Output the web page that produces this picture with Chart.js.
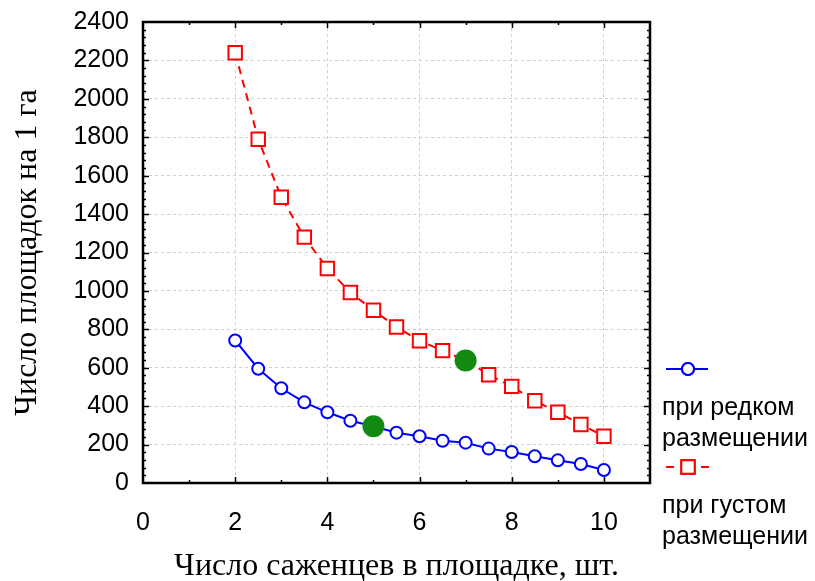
<!DOCTYPE html>
<html>
<head>
<meta charset="utf-8">
<script src="https://cdn.jsdelivr.net/npm/chart.js@4.4.1/dist/chart.umd.min.js"></script>
<style>
  html, body { margin: 0; padding: 0; background: #fff; }
  #chart { display: block; }
</style>
</head>
<body>
<canvas id="chart" width="815" height="581"></canvas>
<script>
'use strict';

// seedlings per plot (x) and number of plots per hectare (y)
var seedlings = [2, 2.5, 3, 3.5, 4, 4.5, 5, 5.5, 6, 6.5, 7, 7.5, 8, 8.5, 9, 9.5, 10];
var sparseCounts = [742, 595, 493, 420, 368, 324, 295, 262, 243, 220, 210, 179, 161, 139, 118, 99, 68];
var denseCounts = [2240, 1790, 1488, 1280, 1117, 992, 899, 812, 741, 689, 638, 564, 503, 428, 368, 305, 243];

// highlighted (green) points: x positions on each curve
var sparseMarkX = 5;
var denseMarkX = 7;

var xTicks = [0, 2, 4, 6, 8, 10];
var yTicks = [0, 200, 400, 600, 800, 1000, 1200, 1400, 1600, 1800, 2000, 2200, 2400];

var seriesNames = [['при редком', 'размещении'], ['при густом', 'размещении']];
var xTitle = 'Число саженцев в площадке, шт.';
var yTitle = 'Число площадок на 1 га';

var BLUE = 'rgb(0,0,255)';
var RED = 'rgb(255,0,0)';
var GREEN = 'rgb(18,138,18)';
var SANS = '"Liberation Sans", Arial, sans-serif';
var SERIF = '"Liberation Serif", "Times New Roman", serif';

function toPoints(xs, ys) {
  return xs.map(function(x, i) { return {x: x, y: ys[i]}; });
}

function pick(xs, ys, x) {
  return {x: x, y: ys[xs.indexOf(x)]};
}

// frame around the plot with inward major/minor ticks on all sides
var framePlugin = {
  id: 'frame',
  afterDraw: function(chart) {
    var ctx = chart.ctx;
    var a = chart.chartArea;
    var xs = chart.scales.x;
    var ys = chart.scales.y;
    var v, p, len;

    ctx.save();
    ctx.strokeStyle = '#000';
    ctx.lineWidth = 1.5;
    ctx.beginPath();
    for (v = 1; v < 11; v++) {
      p = Math.round(xs.getPixelForValue(v)) + 0.5;
      len = v % 2 === 0 ? 6 : 3;
      ctx.moveTo(p, a.bottom); ctx.lineTo(p, a.bottom - len);
      ctx.moveTo(p, a.top); ctx.lineTo(p, a.top + len);
    }
    for (v = 40; v < 2400; v += 40) {
      p = Math.round(ys.getPixelForValue(v)) + 0.5;
      len = v % 200 === 0 ? 6 : 3;
      ctx.moveTo(a.left, p); ctx.lineTo(a.left + len, p);
      ctx.moveTo(a.right, p); ctx.lineTo(a.right - len, p);
    }
    ctx.stroke();

    ctx.lineWidth = 2.5;
    ctx.strokeRect(a.left, a.top, a.right - a.left, a.bottom - a.top);
    ctx.restore();
  }
};

// legend to the right of the plot: line sample above a two-line label
var sideLegendPlugin = {
  id: 'sideLegend',
  afterDraw: function(chart) {
    var ctx = chart.ctx;
    var a = chart.chartArea;
    var x0 = a.right + 16;
    var rows = [369, 467];
    var ds = [chart.data.datasets[1], chart.data.datasets[2]];

    ctx.save();
    ds.forEach(function(d, i) {
      var y = rows[i];
      var cx = x0 + 22;
      ctx.strokeStyle = d.borderColor;
      ctx.lineWidth = 2;
      ctx.beginPath();
      if (d.borderDash) {
        ctx.moveTo(x0, y); ctx.lineTo(x0 + 8, y);
        ctx.moveTo(cx + 13, y); ctx.lineTo(cx + 21, y);
      } else {
        ctx.moveTo(x0, y); ctx.lineTo(x0 + 42, y);
      }
      ctx.stroke();
      Chart.helpers.drawPoint(ctx, {
        pointStyle: d.pointStyle,
        radius: d.pointRadius,
        borderWidth: 2
      }, cx, y);
      ctx.fillStyle = '#fff';
      ctx.fill();
      ctx.stroke();

      ctx.fillStyle = '#000';
      ctx.font = '25px ' + SANS;
      ctx.textAlign = 'left';
      ctx.textBaseline = 'middle';
      ctx.fillText(seriesNames[i][0], x0 - 4, y + 39);
      ctx.fillText(seriesNames[i][1], x0 - 4, y + 70);
    });
    ctx.restore();
  }
};

var config = {
  type: 'line',
  data: {
    datasets: [
      {
        label: 'marked',
        data: [pick(seedlings, sparseCounts, sparseMarkX), pick(seedlings, denseCounts, denseMarkX)],
        showLine: false,
        pointStyle: 'circle',
        pointRadius: 11,
        pointBorderWidth: 0,
        pointBackgroundColor: GREEN,
        borderColor: GREEN,
        order: 0
      },
      {
        label: seriesNames[0].join(' '),
        data: toPoints(seedlings, sparseCounts),
        borderColor: BLUE,
        borderWidth: 2,
        pointStyle: 'circle',
        pointRadius: 6,
        pointBorderWidth: 2,
        pointBackgroundColor: '#fff',
        tension: 0,
        order: 1
      },
      {
        label: seriesNames[1].join(' '),
        data: toPoints(seedlings, denseCounts),
        borderColor: RED,
        borderWidth: 2,
        borderDash: [8, 6],
        pointStyle: 'rect',
        pointRadius: 9.5,
        pointBorderWidth: 2,
        pointBackgroundColor: '#fff',
        tension: 0,
        order: 1
      }
    ]
  },
  options: {
    responsive: false,
    animation: false,
    events: [],
    layout: {padding: {top: 22, right: 165, left: 0, bottom: 0}},
    plugins: {legend: {display: false}, tooltip: {enabled: false}},
    scales: {
      x: {
        type: 'linear',
        min: 0,
        max: 11,
        afterBuildTicks: function(scale) {
          scale.ticks = xTicks.map(function(v) { return {value: v}; });
        },
        afterFit: function(scale) { scale.height = 98; },
        grid: {color: '#cfcfcf', lineWidth: 1, drawTicks: false},
        border: {display: false, dash: [3, 3]},
        ticks: {
          color: '#000', padding: 25, maxRotation: 0,
          font: {family: SANS, size: 25},
          callback: function(v) { return String(v); }
        },
        title: {
          display: true,
          text: xTitle,
          color: '#000',
          padding: {top: 0, bottom: 0},
          font: {family: SERIF, size: 32, lineHeight: 0.9}
        }
      },
      y: {
        type: 'linear',
        min: 0,
        max: 2400,
        afterBuildTicks: function(scale) {
          scale.ticks = yTicks.map(function(v) { return {value: v}; });
        },
        afterFit: function(scale) {
          scale.width = 143;
          scale.paddingTop = 0;
          scale.paddingBottom = 0;
        },
        grid: {color: '#cfcfcf', lineWidth: 1, drawTicks: false},
        border: {display: false, dash: [3, 3]},
        ticks: {
          color: '#000', padding: 14,
          font: {family: SANS, size: 25},
          callback: function(v) { return String(v); }
        },
        title: {
          display: true,
          text: yTitle,
          color: '#000',
          padding: {top: 12, bottom: 0},
          font: {family: SERIF, size: 32, lineHeight: 1}
        }
      }
    }
  },
  plugins: [framePlugin, sideLegendPlugin]
};

new Chart(document.getElementById('chart').getContext('2d'), config);
</script>
</body>
</html>
